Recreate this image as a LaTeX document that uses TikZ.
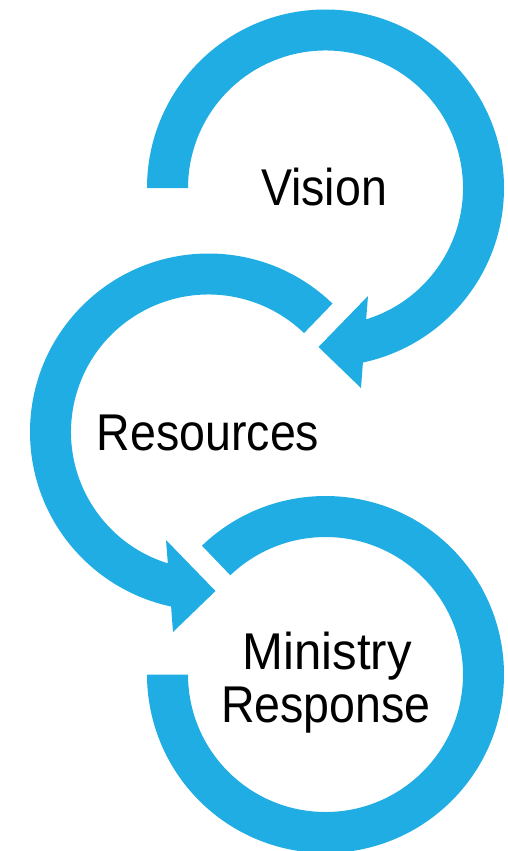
\documentclass[tikz,border=0pt]{standalone}
\usepackage{fontspec}
\setmainfont{Liberation Sans}
\usepackage{graphicx}
\definecolor{ringblue}{HTML}{1FADE3}
\begin{document}
\begin{tikzpicture}[x=1pt,y=1pt,
  ring/.style={fill=ringblue},
  lbl/.style={anchor=base, inner sep=0pt, font=\fontsize{51.7}{62}\selectfont}]
\useasboundingbox (0,0) rectangle (508,-851);
\def\RingOut{178.5}
\def\RingIn{137.5}
\coordinate (c1) at (325.5,-188);
\coordinate (c2) at (208.5,-432);
\coordinate (c3) at (325.5,-674.5);
% ring 1 (Vision) with arrowhead
\fill[ring] ([shift={(c1)}]180:\RingOut) arc[start angle=180,end angle=-77.9,radius=\RingOut]
  -- ([shift={(c1)}]35.5,-200) -- ([shift={(c1)}]-7,-159) -- ([shift={(c1)}]42.5,-108)
  -- ([shift={(c1)}]-72.8:\RingIn) arc[start angle=-72.8,end angle=180,radius=\RingIn] -- cycle;
% ring 2 (Resources) with arrowhead
\fill[ring] ([shift={(c2)}]46:\RingOut) arc[start angle=46,end angle=257.9,radius=\RingOut]
  -- ([shift={(c2)}]-35.5,-200) -- ([shift={(c2)}]7,-159) -- ([shift={(c2)}]-42.5,-108)
  -- ([shift={(c2)}]252.8:\RingIn) arc[start angle=252.8,end angle=46,radius=\RingIn] -- cycle;
% ring 3 (Ministry Response)
\fill[ring] ([shift={(c3)}]133.8:\RingOut) arc[start angle=133.8,end angle=-180,radius=\RingOut]
  -- ([shift={(c3)}]-180:\RingIn) arc[start angle=-180,end angle=133.8,radius=\RingIn] -- cycle;
% labels
\node[lbl] (vision) at (324,-205) {\scalebox{0.9}[1]{Vision}};
\node[lbl] (resources) at (208,-450.5) {\scalebox{0.9}[1]{Resources}};
\node[lbl] (ministry) at (327,-669) {\scalebox{0.95}[1]{Ministry}};
\node[lbl] (response) at (326,-722) {\scalebox{0.9}[1]{Response}};
\end{tikzpicture}
\end{document}
